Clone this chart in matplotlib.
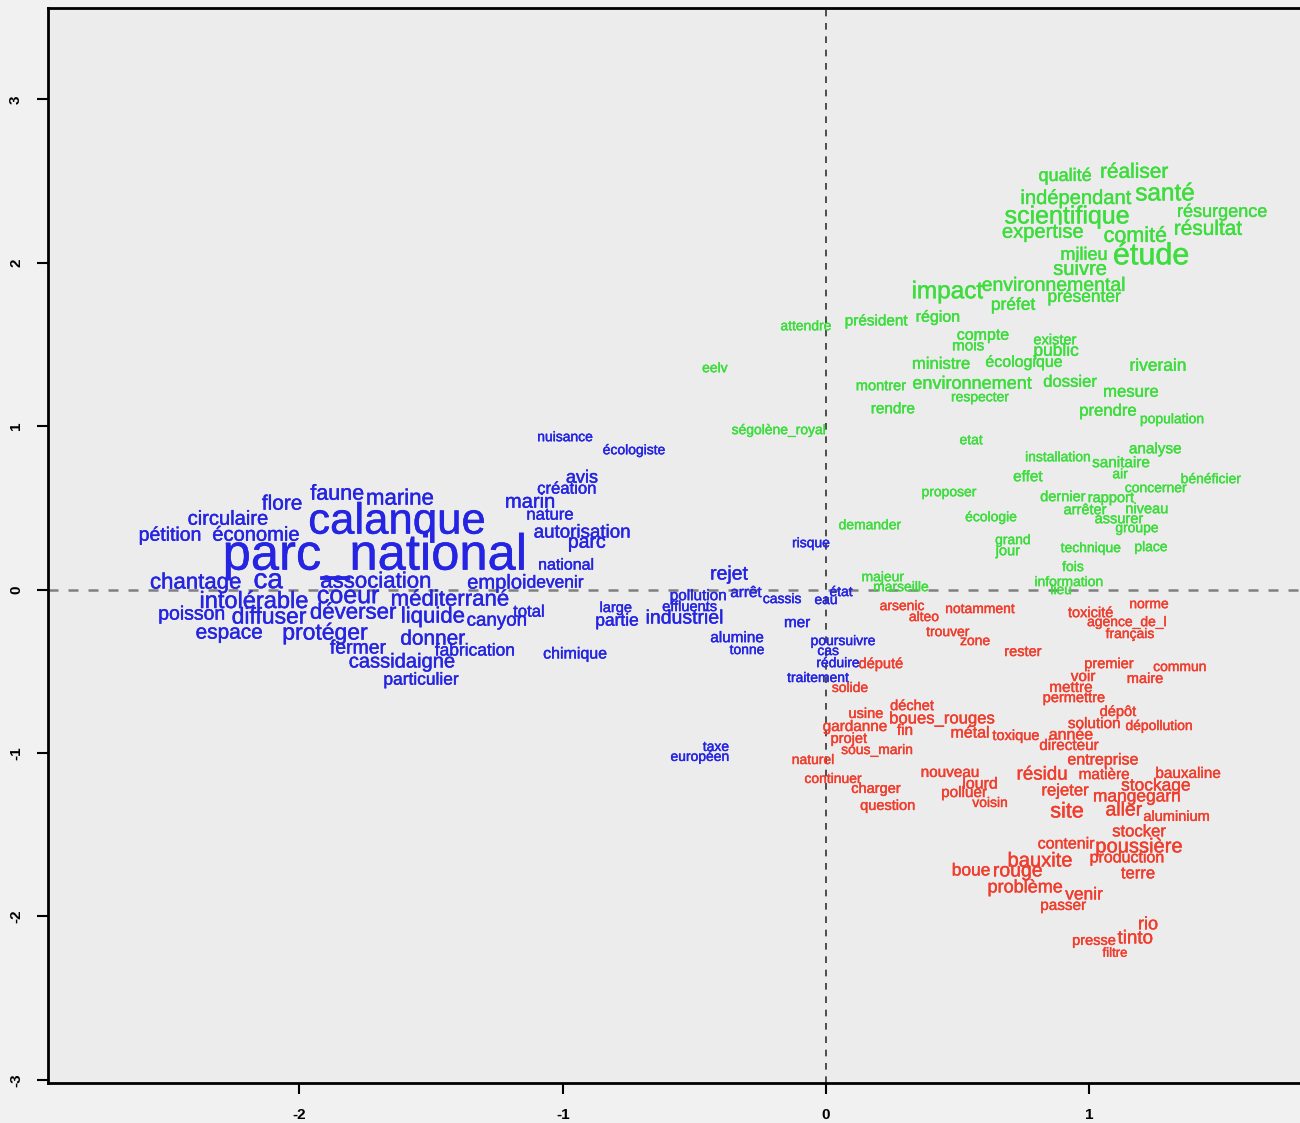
import matplotlib.pyplot as plt
import matplotlib.patheffects as pe

# DATA: word coordinates on the first two factorial axes, size factor (cex)
words_blue = ['nuisance', 'écologiste', 'avis', 'création', 'marin', 'nature', 'autorisation', 'parc',
              'national', 'calanque', 'parc_national', 'flore', 'faune', 'marine', 'circulaire', 'pétition',
              'économie', 'chantage', 'ca', 'association', 'emploi', 'devenir', 'intolérable', 'coeur',
              'méditerrané', 'poisson', 'diffuser', 'déverser', 'liquide', 'canyon', 'total', 'espace',
              'protéger', 'donner', 'fermer', 'fabrication', 'cassidaigne', 'particulier', 'chimique', 'large',
              'partie', 'pollution', 'effluents', 'industriel', 'rejet', 'arrêt', 'cassis', 'eau',
              'état', 'mer', 'risque', 'alumine', 'tonne', 'poursuivre', 'cas', 'réduire',
              'traitement', 'taxe', 'européen']
x_blue = [-0.991, -0.729, -0.927, -0.984, -1.124, -1.048, -0.927, -0.908,
          -0.987, -1.629, -1.713, -2.066, -1.857, -1.618, -2.271, -2.491,
          -2.165, -2.393, -2.119, -1.709, -1.250, -1.029, -2.172, -1.815,
          -1.428, -2.408, -2.115, -1.796, -1.493, -1.250, -1.128, -2.267,
          -1.903, -1.493, -1.777, -1.333, -1.610, -1.538, -0.953, -0.798,
          -0.794, -0.486, -0.517, -0.536, -0.368, -0.304, -0.167, 0.000,
          0.057, -0.110, -0.057, -0.338, -0.300, 0.065, 0.008, 0.046,
          -0.030, -0.418, -0.479]
y_blue = [0.933, 0.853, 0.682, 0.615, 0.535, 0.456, 0.346, 0.284,
          0.150, 0.413, 0.205, 0.523, 0.584, 0.554, 0.431, 0.327,
          0.333, 0.040, 0.052, 0.046, 0.040, 0.040, -0.076, -0.040,
          -0.064, -0.156, -0.168, -0.144, -0.168, -0.193, -0.138, -0.266,
          -0.266, -0.303, -0.364, -0.376, -0.443, -0.554, -0.394, -0.113,
          -0.193, -0.040, -0.107, -0.180, 0.089, -0.021, -0.058, -0.064,
          -0.015, -0.205, 0.284, -0.297, -0.370, -0.315, -0.376, -0.450,
          -0.541, -0.963, -1.024]
cex_blue = [1.0, 1.0, 1.3, 1.2, 1.45, 1.2, 1.35, 1.4,
            1.15, 3.15, 3.65, 1.5, 1.55, 1.6, 1.45, 1.4,
            1.45, 1.6, 2.0, 1.6, 1.45, 1.25, 1.7, 1.8,
            1.6, 1.4, 1.65, 1.6, 1.6, 1.35, 1.2, 1.5,
            1.65, 1.5, 1.4, 1.25, 1.45, 1.25, 1.15, 1.05,
            1.25, 1.1, 1.05, 1.4, 1.4, 1.1, 1.0, 1.0,
            1.0, 1.1, 1.0, 1.1, 1.0, 1.0, 1.0, 1.0,
            1.0, 1.0, 1.0]

words_green = ['qualité', 'réaliser', 'indépendant', 'santé', 'résurgence', 'scientifique', 'expertise', 'comité',
               'résultat', 'milieu', 'étude', 'suivre', 'impact', 'environnemental', 'présenter', 'préfet',
               'attendre', 'président', 'région', 'compte', 'mois', 'exister', 'public', 'ministre',
               'écologique', 'eelv', 'riverain', 'montrer', 'environnement', 'respecter', 'dossier', 'mesure',
               'rendre', 'prendre', 'population', 'ségolène_royal', 'etat', 'analyse', 'installation', 'sanitaire',
               'air', 'effet', 'bénéficier', 'concerner', 'proposer', 'dernier', 'rapport', 'arrêter',
               'niveau', 'assurer', 'groupe', 'écologie', 'demander', 'grand', 'jour', 'technique',
               'place', 'fois', 'information', 'lieu', 'majeur', 'marseille']
x_green = [0.908, 1.170, 0.949, 1.287, 1.504, 0.915, 0.824, 1.174,
           1.451, 0.980, 1.234, 0.965, 0.460, 0.866, 0.980, 0.710,
           -0.076, 0.190, 0.425, 0.596, 0.539, 0.870, 0.874, 0.437,
           0.752, -0.422, 1.261, 0.209, 0.554, 0.585, 0.927, 1.158,
           0.254, 1.071, 1.314, -0.179, 0.551, 1.250, 0.881, 1.120,
           1.117, 0.767, 1.462, 1.253, 0.467, 0.900, 1.082, 0.984,
           1.219, 1.113, 1.181, 0.627, 0.167, 0.710, 0.691, 1.006,
           1.234, 0.938, 0.923, 0.893, 0.216, 0.285]
y_green = [2.529, 2.554, 2.394, 2.419, 2.309, 2.284, 2.187, 2.162,
           2.205, 2.046, 2.040, 1.960, 1.820, 1.856, 1.789, 1.740,
           1.612, 1.642, 1.667, 1.557, 1.489, 1.526, 1.459, 1.379,
           1.391, 1.355, 1.367, 1.245, 1.257, 1.177, 1.269, 1.208,
           1.104, 1.092, 1.043, 0.976, 0.914, 0.859, 0.810, 0.774,
           0.706, 0.688, 0.676, 0.621, 0.596, 0.566, 0.560, 0.486,
           0.492, 0.431, 0.376, 0.443, 0.394, 0.303, 0.235, 0.254,
           0.260, 0.138, 0.046, -0.003, 0.076, 0.015]
cex_green = [1.3, 1.5, 1.45, 1.75, 1.3, 1.8, 1.45, 1.55,
             1.5, 1.3, 2.2, 1.45, 1.75, 1.4, 1.25, 1.25,
             1.0, 1.1, 1.15, 1.15, 1.1, 1.05, 1.25, 1.2,
             1.15, 1.0, 1.25, 1.05, 1.3, 1.0, 1.2, 1.2,
             1.1, 1.2, 1.0, 1.0, 1.0, 1.1, 1.0, 1.1,
             1.0, 1.1, 1.0, 1.0, 1.0, 1.05, 1.05, 1.05,
             1.05, 1.05, 1.0, 1.0, 1.0, 1.0, 1.05, 1.0,
             1.0, 1.0, 1.0, 1.0, 1.0, 1.0]

words_red = ['arsenic', 'alteo', 'notamment', 'trouver', 'zone', 'rester', 'toxicité', 'norme',
             'agence_de_l', 'français', 'député', 'solide', 'premier', 'commun', 'voir', 'maire',
             'mettre', 'permettre', 'dépôt', 'solution', 'dépollution', 'année', 'directeur', 'entreprise',
             'résidu', 'matière', 'bauxaline', 'stockage', 'rejeter', 'mangegarn', 'site', 'aller',
             'aluminium', 'stocker', 'contenir', 'poussière', 'production', 'bauxite', 'boue', 'rouge',
             'terre', 'problème', 'venir', 'passer', 'rio', 'tinto', 'presse', 'filtre',
             'usine', 'déchet', 'boues_rouges', 'gardanne', 'fin', 'métal', 'toxique', 'projet',
             'sous_marin', 'naturel', 'continuer', 'charger', 'question', 'nouveau', 'lourd', 'polluer',
             'voisin']
x_red = [0.289, 0.372, 0.585, 0.463, 0.566, 0.748, 1.006, 1.227,
         1.143, 1.155, 0.209, 0.091, 1.075, 1.344, 0.976, 1.212,
         0.930, 0.942, 1.109, 1.018, 1.265, 0.930, 0.923, 1.052,
         0.820, 1.056, 1.375, 1.253, 0.908, 1.181, 0.915, 1.132,
         1.333, 1.189, 0.912, 1.189, 1.143, 0.813, 0.551, 0.729,
         1.185, 0.756, 0.980, 0.900, 1.223, 1.174, 1.018, 1.098,
         0.152, 0.327, 0.441, 0.110, 0.300, 0.547, 0.722, 0.087,
         0.194, -0.049, 0.027, 0.190, 0.235, 0.471, 0.585, 0.524,
         0.623]
y_red = [-0.101, -0.168, -0.119, -0.260, -0.315, -0.382, -0.144, -0.089,
         -0.199, -0.272, -0.456, -0.602, -0.456, -0.474, -0.535, -0.547,
         -0.602, -0.664, -0.749, -0.823, -0.835, -0.890, -0.957, -1.043,
         -1.135, -1.135, -1.128, -1.202, -1.232, -1.269, -1.361, -1.355,
         -1.391, -1.483, -1.557, -1.575, -1.642, -1.661, -1.722, -1.728,
         -1.740, -1.826, -1.869, -1.936, -2.052, -2.138, -2.150, -2.229,
         -0.761, -0.713, -0.792, -0.841, -0.865, -0.878, -0.896, -0.914,
         -0.982, -1.043, -1.159, -1.220, -1.324, -1.122, -1.190, -1.245,
         -1.306]
cex_red = [1.0, 1.0, 1.0, 1.0, 1.0, 1.05, 1.05, 1.0,
           1.0, 1.0, 1.05, 1.0, 1.05, 1.0, 1.1, 1.05,
           1.1, 1.05, 1.05, 1.1, 1.0, 1.15, 1.1, 1.15,
           1.35, 1.1, 1.1, 1.25, 1.2, 1.25, 1.55, 1.4,
           1.05, 1.2, 1.15, 1.45, 1.15, 1.45, 1.25, 1.4,
           1.2, 1.3, 1.25, 1.1, 1.3, 1.35, 1.05, 0.95,
           1.05, 1.05, 1.2, 1.1, 1.1, 1.15, 1.05, 1.05,
           1.0, 1.0, 1.0, 1.05, 1.05, 1.1, 1.15, 1.1,
           1.0]

clusters = [(words_blue, x_blue, y_blue, cex_blue, '#2424e2'),
            (words_green, x_green, y_green, cex_green, '#3ddd3d'),
            (words_red, x_red, y_red, cex_red, '#f03e2e')]

# PLOT
plt.rcParams['font.family'] = ['Liberation Sans', 'DejaVu Sans']
plt.rcParams['axes.unicode_minus'] = False
fig = plt.figure(figsize=(13, 11.23), dpi=100, facecolor='#f1f1f1')
ax = fig.add_axes([48/1300, 40/1123, 1262/1300, 1075/1123])
ax.set_facecolor('#ececec')

for words, xs, ys, cexs, col in clusters:
    for w, x, y, c in zip(words, xs, ys, cexs):
        ax.text(x, y, w, color=col, fontsize=10*c, ha='center', va='center', zorder=3,
                path_effects=[pe.withStroke(linewidth=0.3, foreground=col)])

ax.axhline(0, color='#808080', lw=1.8, dashes=(4, 4), zorder=1)
ax.axvline(0, color='#333333', lw=1.2, dashes=(4, 4), zorder=1)

ax.set_xlim(-2.955, 1.838)
ax.set_ylim(-3.02, 3.56)
ax.set_xticks([-2, -1, 0, 1])
ax.set_yticks([-3, -2, -1, 0, 1, 2, 3])
ax.tick_params(direction='out', length=8, width=1.5, labelsize=11, pad=10)
for lab in ax.get_xticklabels() + ax.get_yticklabels():
    lab.set_fontweight('bold')
for lab in ax.get_yticklabels():
    lab.set_rotation(90)
    lab.set_va('center')
for s in ['left', 'top', 'bottom']:
    ax.spines[s].set_linewidth(2)
ax.spines['right'].set_visible(False)

fig.savefig('out.png', dpi=100, facecolor=fig.get_facecolor())
